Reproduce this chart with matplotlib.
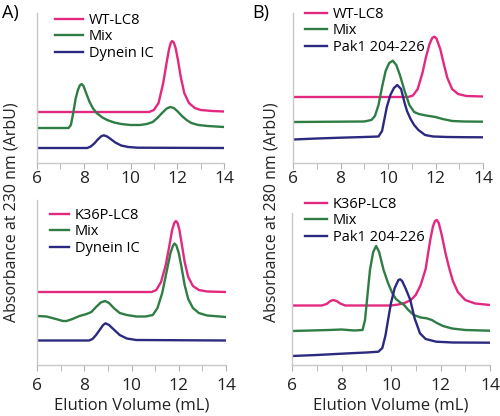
import matplotlib
matplotlib.use("Agg")
import matplotlib.pyplot as plt
from matplotlib.ticker import MultipleLocator

plt.rcParams['font.family'] = ['Open Sans', 'DejaVu Sans']

PINK = '#e2287f'
GREEN = '#2f7d45'
NAVY = '#2c2a80'

# ---- panel A, top (230 nm) ----
a1_wt_x = [6, 10.8, 11.0, 11.2, 11.4, 11.55, 11.65, 11.72, 11.78, 11.85, 11.93, 12.03, 12.15, 12.3, 12.5, 12.75, 13.0, 13.5, 14]
a1_wt_y = [51, 51, 53, 60, 80, 101, 114, 120, 122, 120.5, 115, 103, 86, 70, 60, 55, 53, 52, 51.5]
a1_mix_x = [6, 7.35, 7.45, 7.55, 7.65, 7.75, 7.83, 7.91, 7.99, 8.1, 8.25, 8.4, 8.55, 8.8, 9.0, 9.3, 9.6,
            10.0, 10.4, 10.7, 10.95, 11.15, 11.35, 11.55, 11.7, 11.85, 12.0, 12.2, 12.4, 12.6, 12.9, 13.3, 14]
a1_mix_y = [35, 35, 38, 50, 64, 73, 77.5, 79, 77, 70, 61, 54.5, 50, 45.5, 43, 40.5, 39,
            38, 38, 39, 41, 45, 50, 54.5, 56, 55, 52, 47, 43, 40, 38, 37, 36]
a1_ic_x = [6, 8.15, 8.3, 8.45, 8.6, 8.75, 8.86, 9.0, 9.15, 9.35, 9.6, 9.9, 10.3, 14]
a1_ic_y = [15, 15, 16.5, 19.5, 23.5, 26.8, 27.7, 26.5, 24, 20.5, 17.5, 16, 15.3, 15]

# ---- panel A, bottom (230 nm) ----
a2_k36_x = [6, 10.85, 11.05, 11.25, 11.45, 11.6, 11.72, 11.81, 11.88, 11.95, 12.03, 12.12, 12.25, 12.4, 12.6, 12.85, 13.2, 14]
a2_k36_y = [73, 73, 75, 83, 100, 119, 135, 142, 144, 142, 135, 122, 103, 88, 79, 75, 73.5, 73]
a2_mix_x = [6, 6.4, 6.8, 7.1, 7.25, 7.5, 7.8, 8.1, 8.3, 8.5, 8.7, 8.88, 9.05, 9.25, 9.5, 9.8, 10.2,
            10.6, 10.9, 11.1, 11.3, 11.5, 11.65, 11.75, 11.82, 11.9, 12.0, 12.1, 12.25, 12.4, 12.6, 12.85, 13.2, 14]
a2_mix_y = [49, 48.5, 46, 44, 44, 46, 49, 51, 53, 58, 62.5, 64, 62, 57, 52, 50, 48.5,
            48.5, 50, 57, 72, 95, 112, 119, 121.5, 119.5, 112, 100, 80, 66, 57, 52, 49.5, 48]
a2_ic_x = [6, 8.2, 8.35, 8.5, 8.65, 8.8, 8.9, 9.05, 9.25, 9.5, 9.8, 10.2, 14]
a2_ic_y = [24.5, 24.5, 26, 30, 35, 40, 41.7, 40, 35.5, 30, 26.5, 25, 24.5]

# ---- panel B, top (280 nm) ----
b1_wt_x = [6, 10.85, 11.05, 11.25, 11.45, 11.6, 11.75, 11.86, 11.95, 12.04, 12.2, 12.35, 12.5, 12.7, 12.95, 13.3, 14]
b1_wt_y = [66, 66, 67.5, 74, 90, 106, 119, 125, 126.3, 124.5, 114, 99, 85, 74, 69, 67, 66.5]
b1_mix_x = [6, 9.0, 9.3, 9.45, 9.6, 9.75, 9.9, 10.05, 10.2, 10.35, 10.5, 10.7, 10.9, 11.1, 11.3,
            11.6, 12.0, 12.3, 12.7, 13.2, 14]
b1_mix_y = [41, 41.5, 43, 47, 58, 76, 92, 100, 102.3, 98, 88, 72, 58, 51, 49,
            47.5, 46, 44, 42, 41.5, 41.3]
b1_pak_x = [6, 7, 8, 9, 9.6, 9.75, 9.85, 9.95, 10.1, 10.25, 10.39, 10.55, 10.7, 10.8, 10.95, 11.1,
            11.28, 11.56, 11.9, 12.5, 13.2, 14]
b1_pak_y = [23.5, 24.5, 25.3, 26, 26.5, 32, 44, 56, 68, 75, 78, 74, 60, 52, 44, 38,
            33, 28, 26.5, 26, 25.8, 25.7]

# ---- panel B, bottom (280 nm) ----
b2_k36_x = [6, 7.2, 7.4, 7.55, 7.67, 7.8, 7.95, 8.15, 10.0, 10.3, 10.55, 10.8, 11.0, 11.2, 11.4, 11.5,
            11.6, 11.7, 11.78, 11.85, 11.93, 12.05, 12.2, 12.35, 12.5, 12.7, 13.0, 13.4, 14]
b2_k36_y = [59.5, 59.5, 61, 64, 65, 64, 61.5, 59.5, 59.5, 60.5, 62, 65, 70, 80, 96, 112,
            127, 139, 144, 145, 142, 130, 112, 97, 84, 73, 65, 61.5, 60]
b2_mix_x = [6, 7.5, 8.0, 8.5, 8.85, 8.95, 9.05, 9.15, 9.28, 9.4, 9.52, 9.7, 9.88, 10.05, 10.2, 10.4,
            10.53, 10.7, 10.92, 11.2, 11.44, 11.65, 11.83, 12.1, 12.47, 13.0, 14]
b2_mix_y = [34, 35, 35.5, 34.5, 35, 45, 70, 95, 113, 119, 113, 95, 82, 72, 66, 62,
            60, 55, 50, 47.5, 46.7, 45, 42.3, 39, 36.5, 35, 34.3]
b2_pak_x = [6, 7, 8, 8.32, 9.0, 9.49, 9.65, 9.78, 9.88, 10.0, 10.15, 10.3, 10.37, 10.45, 10.6, 10.78,
            10.95, 11.17, 11.4, 11.83, 12.5, 14]
b2_pak_y = [9, 10, 11.3, 11.7, 12.5, 13.3, 17, 30, 45, 62, 77, 85, 85.7, 84, 76, 65,
            47, 31.7, 26, 23.3, 22.5, 22.3]

xticks = [6, 8, 10, 12, 14]

fig = plt.figure(figsize=(5.0, 4.16), dpi=100)
W, H = 500.0, 416.0


def make_axes(left, right, top, bottom):
    return fig.add_axes([left / W, 1 - bottom / H, (right - left) / W, (bottom - top) / H])


def style(ax, ymax, pad):
    ax.set_xlim(6, 14)
    ax.set_ylim(0, ymax)
    ax.set_xticks(xticks)
    ax.xaxis.set_minor_locator(MultipleLocator(1))
    ax.set_yticks([])
    for s in ['top', 'right']:
        ax.spines[s].set_visible(False)
    for s in ['left', 'bottom']:
        ax.spines[s].set_color('#c8c8c8')
        ax.spines[s].set_linewidth(1.0)
    ax.tick_params(axis='x', which='both', direction='out', color='#b0b0b0',
                   labelsize=12.5, labelcolor='#222222', pad=pad, length=4)
    ax.patch.set_alpha(0)


def draw(ax, curves, labels, anchor, hlen):
    for (x, y), c, lab in zip(curves, [PINK, GREEN, NAVY], labels):
        ax.plot(x, y, color=c, lw=1.7, label=lab, solid_joinstyle='round')
    ax.legend(loc='upper left', bbox_to_anchor=(anchor[0] / W, 1 - anchor[1] / H),
              bbox_transform=fig.transFigure, frameon=False, fontsize=10.5,
              borderpad=0, borderaxespad=0, handlelength=hlen, handletextpad=0.4,
              labelspacing=0.1)


axA1 = make_axes(37, 224, 13, 163)
style(axA1, 150, 1.5)
draw(axA1, [(a1_wt_x, a1_wt_y), (a1_mix_x, a1_mix_y), (a1_ic_x, a1_ic_y)],
     ['WT-LC8', 'Mix', 'Dynein IC'], (55, 13), 1.9)

axA2 = make_axes(37, 226, 200, 365)
style(axA2, 165, 5)
draw(axA2, [(a2_k36_x, a2_k36_y), (a2_mix_x, a2_mix_y), (a2_ic_x, a2_ic_y)],
     ['K36P-LC8', 'Mix', 'Dynein IC'], (50, 208), 1.3)
axA2.set_xlabel('Elution Volume (mL)', fontsize=12, color='#222222', labelpad=3)

axB1 = make_axes(293, 483, 13, 163)
style(axB1, 150, 1.5)
draw(axB1, [(b1_wt_x, b1_wt_y), (b1_mix_x, b1_mix_y), (b1_pak_x, b1_pak_y)],
     ['WT-LC8', 'Mix', 'Pak1 204-226'], (305, 7), 1.5)

axB2 = make_axes(292, 490, 213, 365)
style(axB2, 152, 5)
draw(axB2, [(b2_k36_x, b2_k36_y), (b2_mix_x, b2_mix_y), (b2_pak_x, b2_pak_y)],
     ['K36P-LC8', 'Mix', 'Pak1 204-226'], (305, 197), 1.5)
axB2.set_xlabel('Elution Volume (mL)', fontsize=12, color='#222222', labelpad=3)

fig.text(2 / W, 1 - 4 / H, 'A)', fontsize=13, va='top', ha='left')
fig.text(252 / W, 1 - 4 / H, 'B)', fontsize=13, va='top', ha='left')
fig.text(12 / W, 1 - 212 / H, 'Absorbance at 230 nm (ArbU)', rotation=90,
         fontsize=11.5, ha='center', va='center', color='#222222')
fig.text(271 / W, 1 - 212 / H, 'Absorbance at 280 nm (ArbU)', rotation=90,
         fontsize=11.5, ha='center', va='center', color='#222222')

fig.savefig('out.png', dpi=100)
